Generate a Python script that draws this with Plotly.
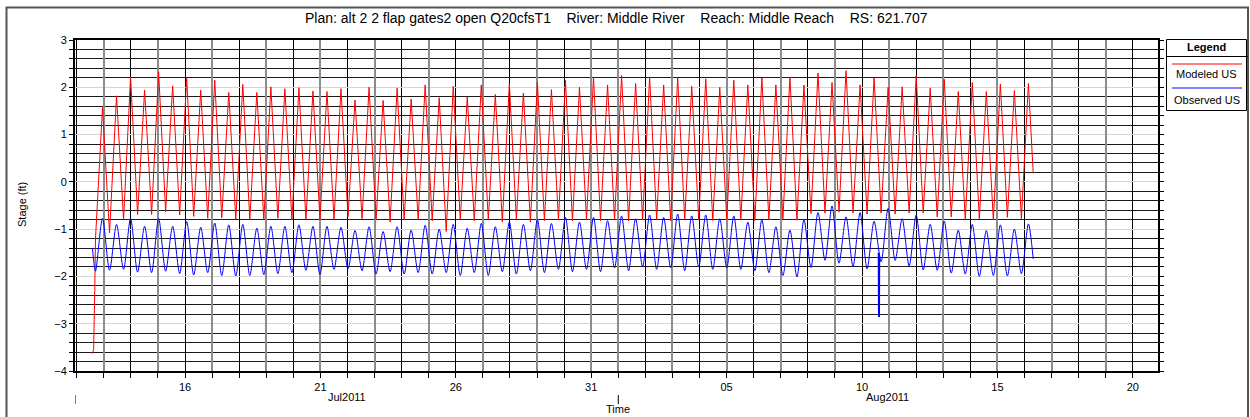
import pandas as pd
import plotly.graph_objects as go

# ---------------- data ----------------
# tidal extrema (alternating low / high), sampled every half tidal cycle
t_first_extreme = "2011-07-12 16:40"
half_cycle = "373min"

red_start_times = ["2011-07-12 14:00", "2011-07-12 15:00", "2011-07-12 16:00"]
red_start_vals = [-3.63, -3.55, -2.30]
red_low = [-1.20, -1.08, -0.80, -0.69, -0.69, -0.63, -0.70, -0.73, -0.77, -0.76,
           -0.79, -0.80, -0.80, -0.77, -0.80, -0.80, -0.80, -0.80, -0.73,
           -0.78, -0.80, -0.85, -0.80, -0.80, -0.82, -1.05, -0.80,
           -0.82, -0.80, -0.85, -0.80, -0.85, -0.82, -0.80, -0.82,
           -0.80, -0.82, -0.80, -0.82, -0.80, -0.80, -0.82, -0.80,
           -0.80, -0.82, -0.80, -0.80, -0.82, -0.80,
           -0.78, -0.81, -0.67, -0.66, -0.64, -0.66, -0.68, -0.66, -0.68,
           -0.66, -0.66, -0.74, -0.74, -0.80, -0.78, -0.80, -0.75, -0.78]
red_high = [1.57, 1.82, 2.22, 1.94, 2.32, 2.03, 2.19, 1.94, 2.15, 1.89,
            2.06, 1.89, 2.01, 1.97, 1.99, 1.92, 1.91, 1.97, 1.73,
            2.00, 1.72, 1.98, 1.75, 2.05, 1.78, 2.02, 1.80,
            2.05, 1.85, 2.08, 1.88, 2.10, 1.95, 2.15, 2.00,
            2.22, 2.05, 2.25, 2.08, 2.22, 2.05, 2.20, 2.02,
            2.18, 2.00, 2.15, 2.05, 2.20, 2.05,
            2.22, 2.05, 2.30, 2.10, 2.35, 2.05, 2.20, 2.00,
            2.01, 2.25, 1.98, 2.17, 1.91, 2.10, 1.91, 2.07, 1.93, 2.08]
red_end_time = "2011-08-16 07:45"
red_end_val = 0.18

blue_start_times = ["2011-07-12 14:00", "2011-07-12 14:45"]
blue_start_vals = [-1.40, -1.60]
blue_low = [-1.89, -1.87, -1.85, -1.91, -1.92, -1.89, -1.94, -1.97, -1.92, -1.98,
            -1.99, -1.98, -1.96, -1.94, -1.92, -1.87, -1.96, -1.85, -1.84,
            -1.88, -1.95, -1.90, -1.95, -1.92, -1.95, -1.92, -1.98,
            -1.92, -1.98, -1.90, -1.95, -1.88, -1.92, -1.85, -1.90,
            -1.85, -1.90, -1.82, -1.88, -1.80, -1.85, -1.82, -1.88,
            -1.80, -1.85, -1.82, -1.85, -1.88, -1.92,
            -1.98, -2.01, -1.81, -1.66, -1.72, -1.79, -1.84, -1.69, -1.66,
            -1.78, -1.86, -1.87, -1.93, -1.95, -2.00, -1.98, -1.99, -1.94]
blue_high = [-0.77, -0.90, -0.77, -0.94, -0.77, -0.94, -0.84, -0.96, -0.87, -0.91,
             -0.90, -0.98, -0.94, -0.94, -0.91, -0.94, -0.94, -0.96, -1.03,
             -0.95, -1.05, -0.95, -1.02, -0.92, -1.00, -0.90, -0.98,
             -0.88, -0.95, -0.85, -0.90, -0.80, -0.88, -0.75, -0.85,
             -0.75, -0.82, -0.72, -0.78, -0.70, -0.75, -0.68, -0.72,
             -0.70, -0.78, -0.72, -0.85, -0.80, -0.95,
             -1.02, -0.80, -0.65, -0.51, -0.74, -0.65, -0.83, -0.56, -0.78,
             -0.70, -0.90, -0.83, -1.02, -0.90, -1.03, -0.91, -1.00, -0.89]
blue_end_time = "2011-08-16 07:45"
blue_end_val = -1.63
blue_spike_times = ["2011-08-10 14:50", "2011-08-10 15:03", "2011-08-10 15:15"]
blue_spike_vals = [-1.50, -2.86, -1.55]

x_range = ["2011-07-11 22:30", "2011-08-20 22:20"]
month_labels = ["Jul2011", "Aug2011"]
month_starts = [x_range[0], "2011-08-01 00:00"]
month_label_pos = ["2011-07-21 23:30", "2011-08-10 23:00"]

title_text = ("Plan: alt 2 2 flap gates2 open Q20cfsT1\u00a0\u00a0\u00a0\u00a0River: Middle River"
              "\u00a0\u00a0\u00a0\u00a0Reach: Middle Reach\u00a0\u00a0\u00a0\u00a0RS: 621.707")
series_names = ["Modeled US", "Observed US"]
series_colors = ["#ff0000", "#0000ff"]


def interleave(lows, highs):
    out = []
    for lo, hi in zip(lows, highs):
        out.extend([lo, hi])
    return out


n_ext = len(red_low) + len(red_high)
ext_times = list(pd.date_range(t_first_extreme, periods=n_ext, freq=half_cycle))

red_x = list(pd.to_datetime(red_start_times)) + ext_times + [pd.Timestamp(red_end_time)]
red_y = red_start_vals + interleave(red_low, red_high) + [red_end_val]
blue_x = list(pd.to_datetime(blue_start_times)) + ext_times + [pd.Timestamp(blue_end_time)]
blue_y = blue_start_vals + interleave(blue_low, blue_high) + [blue_end_val]

# ---------------- geometry helpers (layout only) ----------------
W, H = 1250, 417
L, R, T, B = 75, 1158, 40, 371


def px2x(px):
    return (px - L) / (R - L)


def py2y(py):
    return (B - py) / (B - T)


FONT = "Liberation Sans, Arial, sans-serif"

fig = go.Figure()
fig.add_trace(go.Scatter(x=red_x, y=red_y, mode="lines", name=series_names[0],
                         line=dict(color=series_colors[0], width=1), showlegend=False))
fig.add_trace(go.Scatter(x=blue_x, y=blue_y, mode="lines", name=series_names[1],
                         line=dict(color=series_colors[1], width=1, shape="spline", smoothing=0.8),
                         showlegend=False))
fig.add_trace(go.Scatter(x=pd.to_datetime(blue_spike_times), y=blue_spike_vals, mode="lines",
                         line=dict(color=series_colors[1], width=2), showlegend=False,
                         hoverinfo="skip"))
# overlay axis used only for the alternate (odd-day) grey grid lines
odd_days = [d for d in pd.date_range("2011-07-12", "2011-08-21", freq="D") if d.day % 2 == 1]
fig.add_trace(go.Scatter(x=[], y=[], xaxis="x2", showlegend=False))

fig.update_layout(
    width=W, height=H,
    margin=dict(l=L, r=W - R, t=T, b=H - B),
    paper_bgcolor="white", plot_bgcolor="white",
    font=dict(family=FONT, size=11, color="black"),
    xaxis=dict(
        type="date", range=x_range,
        tick0="2011-07-16", dtick=5 * 86400000, tickformat="%d",
        ticks="outside", ticklen=5, tickcolor="black", tickwidth=1,
        showgrid=True, gridcolor="black", gridwidth=1,
        minor=dict(dtick=86400000, tick0="2011-07-12", ticks="outside", ticklen=5,
                   tickcolor="black", showgrid=True, gridcolor="black", gridwidth=1),
        showline=True, linecolor="black", linewidth=2, mirror=True,
        zeroline=False, tickfont=dict(size=11),
    ),
    xaxis2=dict(
        type="date", overlaying="x", matches="x", anchor="y",
        tickmode="array", tickvals=odd_days, showticklabels=False, ticks="",
        showgrid=True, gridcolor="#8c8c8c", gridwidth=2, showline=False, zeroline=False,
    ),
    yaxis=dict(
        range=[-4, 3], tick0=0, dtick=1,
        ticks="outside", ticklen=4, tickcolor="black",
        showgrid=True, gridcolor="#d4d4d4", gridwidth=1,
        minor=dict(dtick=0.2, ticks="outside", ticklen=3, tickcolor="black",
                   showgrid=True, gridcolor="#1a1a1a", gridwidth=1),
        showline=True, linecolor="black", linewidth=2, mirror="allticks",
        zeroline=False, tickfont=dict(size=11),
    ),
)

annotations = [
    dict(text=title_text, x=0.5, y=py2y(18), xref="paper", yref="paper",
         showarrow=False, font=dict(size=14), xanchor="center", yanchor="middle"),
    dict(text="Stage (ft)", x=px2x(22), y=py2y(205), xref="paper", yref="paper",
         showarrow=False, textangle=-90, font=dict(size=11), xanchor="center", yanchor="middle"),
    dict(text="Time", x="2011-08-01 00:00", y=py2y(409), xref="x", yref="paper",
         showarrow=False, font=dict(size=11), xanchor="center", yanchor="middle"),
]
for lab, pos in zip(month_labels, month_label_pos):
    annotations.append(dict(text=lab, x=pos, y=py2y(397), xref="x", yref="paper",
                            showarrow=False, font=dict(size=11), xanchor="center",
                            yanchor="middle"))

# custom legend box
lx0, lx1, ly0, ly1 = px2x(1166.5), px2x(1246.5), py2y(39.5), py2y(110.5)
lcx = px2x(1206.5)
annotations += [
    dict(text="<b>Legend</b>", x=lcx, y=py2y(47), xref="paper", yref="paper",
         showarrow=False, font=dict(size=11), xanchor="center", yanchor="middle"),
    dict(text=series_names[0], x=lcx, y=py2y(74.5), xref="paper", yref="paper",
         showarrow=False, font=dict(size=11), xanchor="center", yanchor="middle"),
    dict(text=series_names[1], x=lcx, y=py2y(99.5), xref="paper", yref="paper",
         showarrow=False, font=dict(size=11), xanchor="center", yanchor="middle"),
]
shapes = [
    dict(type="rect", xref="paper", yref="paper", x0=lx0, x1=lx1, y0=ly1, y1=ly0,
         line=dict(color="black", width=1), fillcolor="white", layer="above"),
    dict(type="line", xref="paper", yref="paper", x0=lx0, x1=px2x(1248), y0=py2y(56.5),
         y1=py2y(56.5), line=dict(color="black", width=1)),
    dict(type="line", xref="paper", yref="paper", x0=px2x(1172), x1=px2x(1242), y0=py2y(64),
         y1=py2y(64), line=dict(color=series_colors[0], width=1)),
    dict(type="line", xref="paper", yref="paper", x0=px2x(1172), x1=px2x(1242), y0=py2y(88),
         y1=py2y(88), line=dict(color=series_colors[1], width=1)),
    # outer frame
    dict(type="rect", xref="paper", yref="paper", x0=px2x(6.5), x1=px2x(1248),
         y0=py2y(430), y1=py2y(7.5), line=dict(color="#555555", width=2), layer="below"),
]
for ms in month_starts:
    shapes.append(dict(type="line", xref="x", yref="paper", x0=ms, x1=ms,
                       y0=py2y(395), y1=py2y(404), line=dict(color="black", width=1)))

fig.update_layout(annotations=annotations, shapes=shapes)
fig.write_html("out.html")
